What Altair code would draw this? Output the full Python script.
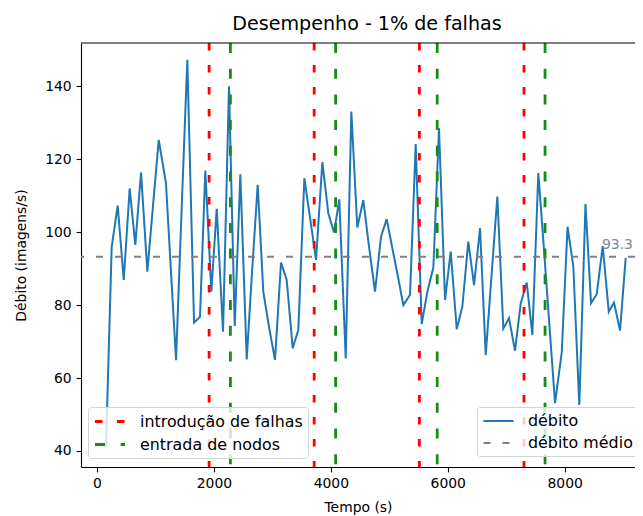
import altair as alt
import pandas as pd

# ---- data ----
tempo = [154, 251, 354, 457, 559, 655, 753, 861, 958, 1056,
         1180, 1266, 1352, 1447, 1545, 1660, 1762, 1853, 1956, 2048,
         2156, 2258, 2356, 2452, 2561, 2652, 2749, 2845, 2943, 3045,
         3148, 3245, 3348, 3444, 3547, 3649, 3747, 3855, 3957, 4055,
         4145, 4255, 4351, 4453, 4556, 4654, 4756, 4859, 4956, 5054,
         5150, 5240, 5355, 5452, 5555, 5651, 5754, 5851, 5954, 6051,
         6154, 6250, 6352, 6450, 6553, 6650, 6749, 6849, 6951, 7049,
         7151, 7249, 7352, 7448, 7550, 7648, 7742, 7836, 7951, 8050,
         8149, 8251, 8357, 8452, 8549, 8652, 8755, 8845, 8948, 9045]
debito = [41.0, 96.0, 107.3, 86.9, 112.0, 96.5, 116.4, 89.2, 107.3, 125.3,
          113.4, 89.0, 64.9, 106.0, 147.3, 75.2, 76.8, 116.9, 83.7, 106.4,
          72.7, 140.0, 74.3, 115.9, 65.1, 89.0, 113.0, 83.7, 74.0, 65.0,
          91.7, 86.9, 68.2, 73.2, 114.8, 103.5, 92.4, 119.2, 105.2, 99.9,
          109.0, 65.4, 133.1, 101.3, 108.8, 96.0, 83.7, 98.8, 103.6, 95.5,
          87.7, 80.0, 82.8, 124.2, 74.8, 83.6, 90.3, 128.5, 81.4, 94.7,
          73.4, 79.6, 97.4, 85.5, 101.1, 66.3, 88.0, 109.8, 73.6, 76.4,
          67.5, 80.5, 86.2, 71.8, 116.2, 95.0, 74.0, 53.1, 67.1, 101.5,
          90.6, 52.6, 107.7, 80.5, 83.0, 96.2, 78.2, 80.7, 73.0, 93.0]
falhas = [1918, 3715, 5515, 7305]
nodos = [2282, 4082, 5820, 7665]
media = 93.3
rotulo_tempo = 8640

series_nomes = ["débito", "débito médio"]
eventos_nomes = ["introdução de falhas", "entrada de nodos"]
x_ticks = [0, 2000, 4000, 6000, 8000]
y_ticks = [40, 60, 80, 100, 120, 140]

XDOM = [-274, 9204]
YDOM = [35.6, 151.9]

FONT = "DejaVu Sans"
FS = 13.9
FS_LEG = 15.9
FS_TIT = 19.1
W, H = 554, 424

serie_df = pd.DataFrame({"tempo": tempo, "debito": debito, "serie": series_nomes[0]})
media_df = pd.DataFrame({"debito": [media], "serie": [series_nomes[1]]})
eventos_df = pd.DataFrame({
    "tempo": falhas + nodos,
    "evento": [eventos_nomes[0]] * len(falhas) + [eventos_nomes[1]] * len(nodos),
})
rotulo_df = pd.DataFrame({"tempo": [rotulo_tempo], "debito": [media], "texto": [f"{media:.1f}"]})

xenc = alt.X("tempo:Q",
             scale=alt.Scale(domain=XDOM, nice=False, zero=False),
             axis=alt.Axis(values=x_ticks, format="d", title="Tempo (s)"))
yenc = alt.Y("debito:Q",
             scale=alt.Scale(domain=YDOM, nice=False, zero=False),
             axis=alt.Axis(values=y_ticks, format="d", title="Débito (imagens/s)"))

legend_common = dict(
    orient="none", title=None, symbolType="M-0.94,0H2.81", symbolSize=256,
    labelFont=FONT, labelFontSize=FS_LEG, labelColor="black", labelOffset=28,
    padding=5, rowPadding=5, fillColor="rgba(255,255,255,0.8)",
    strokeColor="#d4d4d4", cornerRadius=3, labelLimit=400, legendY=364,
)
leg_b = alt.Legend(legendX=396, symbolStrokeWidth=2, **legend_common)
leg_a = alt.Legend(legendX=7, symbolStrokeWidth=2.8, **legend_common)

color_b = alt.Color("serie:N", scale=alt.Scale(domain=series_nomes, range=["#1f77b4", "#808080"]),
                    legend=leg_b)
dash_b = alt.StrokeDash("serie:N", scale=alt.Scale(domain=series_nomes, range=[[1, 0], [7, 12]]),
                        legend=leg_b)

linha = alt.Chart(serie_df).mark_line(strokeWidth=2).encode(
    x=xenc, y=yenc, color=color_b, strokeDash=dash_b)
media_regra = alt.Chart(media_df).mark_rule(strokeWidth=2).encode(
    y=yenc, color=color_b, strokeDash=dash_b)
camada_b = alt.layer(linha, media_regra)

color_a = alt.Color("evento:N", scale=alt.Scale(domain=eventos_nomes, range=["#ff0000", "#1a8a1a"]),
                    legend=leg_a)
dash_a = alt.StrokeDash("evento:N", scale=alt.Scale(domain=eventos_nomes, range=[[7.5, 14.5], [10, 15.7]]),
                        legend=leg_a)
verticais = alt.Chart(eventos_df).mark_rule(strokeWidth=2.8).encode(
    x=xenc, color=color_a, strokeDash=dash_a)

rotulo = alt.Chart(rotulo_df).mark_text(
    align="left", baseline="alphabetic", dy=-8, font=FONT, fontSize=FS, color="#7a8a9e"
).encode(x=xenc, y=yenc, text="texto:N")

topo = alt.Chart(media_df).mark_rule(color="black", strokeWidth=1.1).encode(
    x=alt.value(0), x2=alt.value(W), y=alt.value(0))

chart = alt.layer(camada_b, verticais, rotulo, topo).resolve_scale(
    color="independent", strokeDash="independent"
).properties(
    width=W, height=H,
    autosize=alt.AutoSizeParams(type="none"),
    padding={"left": 73, "top": 35, "right": 0, "bottom": 49},
    title=alt.TitleParams("Desempenho - 1% de falhas", font=FONT, fontSize=FS_TIT,
                          fontWeight="normal", color="black", anchor="middle",
                          dx=9, dy=21, offset=13.5, baseline="alphabetic"),
).configure_view(strokeWidth=0).configure_axis(
    grid=False, domainColor="black", domainWidth=1.1, tickColor="black",
    tickWidth=1.1, tickSize=4.9, labelPadding=4.9, labelFont=FONT,
    labelFontSize=FS, labelColor="black", titleFont=FONT,
    titleFontSize=FS, titleFontWeight="normal", titleColor="black",
).configure_axisX(titlePadding=10).configure_axisY(titlePadding=16)

chart.save("out.html", embed_options={"renderer": "svg", "actions": False})
